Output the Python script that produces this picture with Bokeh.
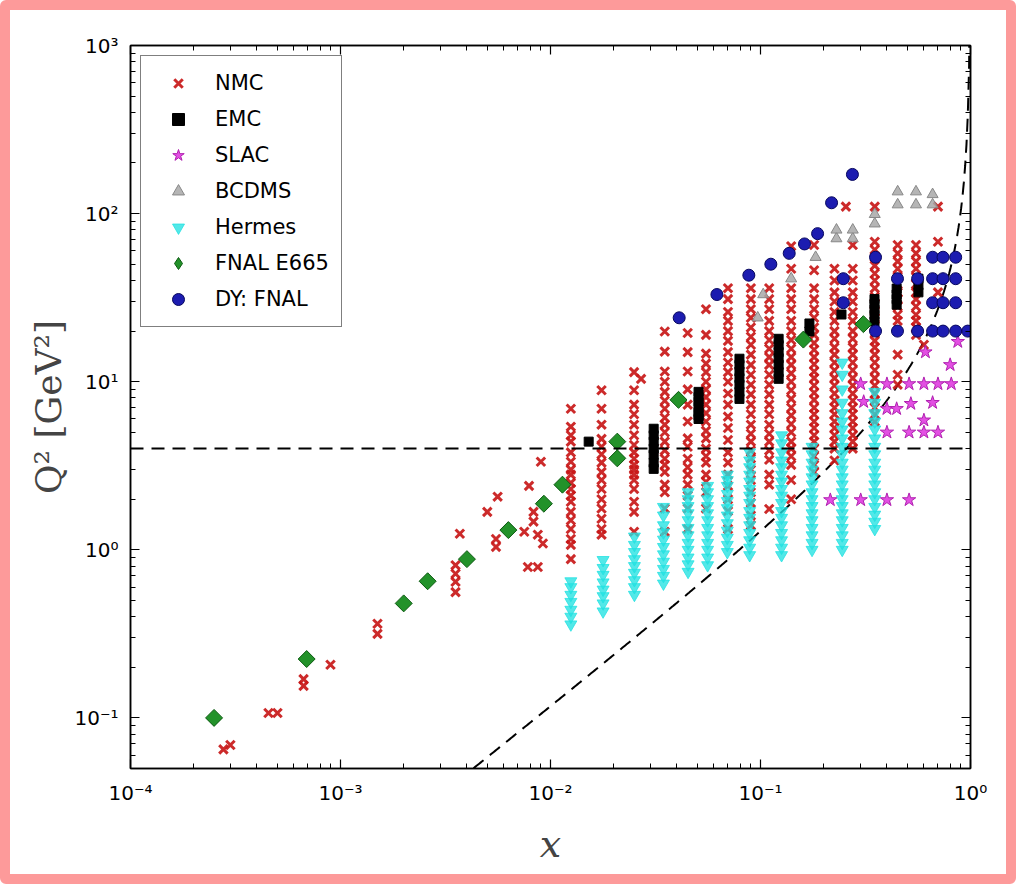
import numpy as np
from bokeh.plotting import figure
from bokeh.models import (LogAxis, LogTicker, CustomJSTickFormatter, Span,
                          Legend, LegendItem)
from bokeh.embed import file_html
from bokeh.resources import INLINE

# ------------------------------------------------------------------ data
# NMC: isolated low-x points
nmc_lowx_x = [0.000277, 0.000299, 0.000454, 0.000501, 0.000667, 0.000667, 0.000896,
              0.0015, 0.0015, 0.00353, 0.00353, 0.00353, 0.00353, 0.0037,
              0.0050, 0.0055, 0.0055, 0.0056, 0.0075, 0.0079, 0.0083, 0.0083,
              0.0087, 0.0090, 0.0092, 0.0078, 0.0087,
              0.027, 0.255, 0.60]
nmc_lowx_q2 = [0.065, 0.069, 0.107, 0.107, 0.155, 0.17, 0.207,
               0.363, 0.316, 0.81, 0.72, 0.645, 0.56, 1.245,
               1.68, 1.16, 1.04, 2.07, 1.28, 2.4, 1.68, 1.47,
               1.23, 3.34, 1.09, 0.79, 0.79,
               10.4, 110, 16.6]
# NMC: x bins and the Q2 values measured in each bin
nmc_bins = [0.0125, 0.0175, 0.025, 0.035, 0.045, 0.055, 0.07, 0.09, 0.11,
            0.14, 0.18, 0.225, 0.275, 0.35, 0.45, 0.55, 0.70]
nmc_bin_q2 = [
    [6.9, 5.4, 4.8, 4.4, 3.8, 3.34, 3.0, 2.8, 2.5, 2.3, 2.1, 1.93, 1.68, 1.5, 1.33, 1.16, 1.07, 0.88],
    [8.9, 6.9, 5.55, 4.57, 4.1, 3.7, 3.3, 2.9, 2.6, 2.3, 2.0, 1.76, 1.53, 1.33, 1.23],
    [11.4, 8.9, 7.3, 6.4, 5.55, 4.8, 4.2, 3.8, 3.48, 3.2, 3.0, 2.8, 2.6, 2.3, 1.93, 1.68, 1.28],
    [19.9, 15.1, 11.5, 10, 8.7, 7.7, 6.9, 6.1, 5.55, 5.0, 4.4, 3.9, 3.48, 3.2, 2.9, 2.44, 2.2, 1.76, 1.28],
    [19.5, 15, 11.5, 9.0, 7.3, 5.8, 4.6, 4.1, 3.48, 3.1, 2.8, 2.44, 2.1, 1.76, 1.33],
    [27, 19, 14.7, 12.8, 11.4, 10, 9.0, 8.1, 7.3, 6.5, 5.8, 5.1, 4.6, 4.0, 3.6, 3.3, 2.8, 2.54, 2.2, 1.76],
    [36, 31, 26, 23, 20, 17.5, 15, 13, 11.4, 10, 8.5, 7.3, 6.2, 5.3, 4.5, 3.8, 3.3, 2.8, 2.4, 2.0, 1.7, 1.33],
    [36, 31, 27, 24, 21, 18.5, 16.6, 14.5, 12.6, 11, 9.6, 8.4, 7.3, 6.4, 5.55, 4.9, 4.4, 3.9, 3.5,
     3.0, 2.6, 2.2, 1.9, 1.6, 1.4],
    [36, 31, 27, 23, 20, 17.7, 15.7, 14, 12.6, 11, 9.6, 8.4, 7.3, 6.4, 5.55, 4.9, 4.4, 3.9, 3.43,
     2.8, 2.44, 1.75],
    [64, 47, 36, 31, 27, 23, 20, 17.7, 15.7, 14, 12.6, 11.2, 10, 8.9, 7.9, 7.0, 6.3, 5.6, 5.0,
     4.4, 4.0, 3.6, 3.2, 2.6, 2.0],
    [65, 46, 36, 31, 27, 24, 21, 19, 17, 15.5, 14, 12.7, 11.5, 10.5, 9.5, 8.6, 7.8, 7.0, 6.4,
     5.8, 5.3, 4.8, 4.4, 4.0, 3.6, 3.2, 2.9],
    [47, 40, 34, 30, 26, 23, 20, 18, 16, 14.5, 13, 11.7, 10.5, 9.5, 8.5, 7.7, 7.0, 6.4, 5.8,
     5.3, 4.8, 4.4, 4.0, 3.4],
    [65, 47, 40, 34, 30, 26, 23, 20, 18, 16, 14.5, 13, 11.7, 10.5, 9.5, 8.5, 7.7, 7.0, 6.4,
     5.8, 5.3, 4.8, 4.4, 4.0],
    [110, 68, 61, 55, 49, 44, 40, 36, 32, 29, 26, 24, 21.5, 19.5, 17.5, 16, 14.5, 13, 11.7,
     10.5, 9.5, 8.5, 7.7, 7.0, 6.4, 5.8],
    [65, 58, 52, 47, 42, 38, 34, 31, 28, 25, 23, 14.5, 11, 9.6],
    [65, 58, 52, 47, 42, 38, 34, 31, 28, 25, 23, 21, 19],
    [110, 68, 41, 34],
]

emc_x = [0.0152,
         0.031, 0.031, 0.031, 0.031, 0.031, 0.031, 0.031,
         0.0507, 0.0507, 0.0507, 0.0507, 0.0507, 0.0507, 0.0507,
         0.0794, 0.0794, 0.0794, 0.0794, 0.0794, 0.0794, 0.0794,
         0.122, 0.122, 0.122, 0.122, 0.122, 0.122, 0.122,
         0.171, 0.171, 0.243,
         0.349, 0.349, 0.349, 0.349, 0.349,
         0.445, 0.445, 0.445, 0.445, 0.565, 0.565, 0.565]
emc_q2 = [4.4,
          5.25, 4.8, 4.4, 4.0, 3.67, 3.3, 3.03,
          8.7, 8.1, 7.6, 7.1, 6.6, 6.3, 6.0,
          13.7, 12.6, 11.5, 10.5, 9.6, 8.7, 7.9,
          18, 16.5, 15, 13.8, 12.6, 11.4, 10.4,
          22.2, 19.9, 25.1,
          31, 29, 27, 25, 22.8,
          35.8, 33, 31, 28.7, 41, 37.5, 34]

slac_x = [0.215, 0.30, 0.40, 0.51, 0.40, 0.51, 0.60, 0.70, 0.60, 0.40, 0.445,
          0.52, 0.66, 0.31, 0.30, 0.40, 0.51, 0.60, 0.70, 0.81, 0.80, 0.61, 0.87]
slac_q2 = [1.98, 1.98, 1.98, 1.98, 5.0, 5.0, 5.0, 5.0, 5.9, 6.9, 6.9,
           7.4, 7.5, 7.6, 9.7, 9.7, 9.7, 9.7, 9.7, 9.7, 12.6, 15, 17.3]

bcdms_x = [0.45, 0.45, 0.55, 0.55, 0.66, 0.66, 0.35, 0.35, 0.23, 0.23,
           0.275, 0.275, 0.183, 0.14, 0.103, 0.097]
bcdms_q2 = [113, 135, 113, 135, 113, 130, 87, 99, 71, 80,
            71, 80, 55, 41, 33, 24]

hermes_bins = [0.0125, 0.0178, 0.0251, 0.0345, 0.0452, 0.056, 0.0695, 0.0888,
               0.126, 0.176, 0.245, 0.35]
hermes_bin_q2 = [
    [0.36, 0.40, 0.44, 0.49, 0.54, 0.60, 0.65],
    [0.43, 0.48, 0.53, 0.58, 0.64, 0.71, 0.78, 0.87],
    [0.54, 0.60, 0.66, 0.73, 0.80, 0.88, 0.97, 1.07, 1.2],
    [0.63, 0.70, 0.77, 0.85, 0.94, 1.04, 1.15, 1.27, 1.4, 1.6, 1.8],
    [0.74, 0.82, 0.9, 1.0, 1.1, 1.22, 1.35, 1.5, 1.65, 1.82, 2.0, 2.2],
    [0.81, 0.9, 1.0, 1.1, 1.22, 1.35, 1.5, 1.65, 1.82, 2.0, 2.2, 2.4],
    [0.97, 1.07, 1.18, 1.3, 1.44, 1.6, 1.77, 1.95, 2.15, 2.4, 2.6, 2.8],
    [0.93, 1.03, 1.14, 1.26, 1.4, 1.55, 1.7, 1.9, 2.1, 2.3, 2.55, 2.8, 3.1, 3.4, 3.8],
    [0.93, 1.03, 1.14, 1.26, 1.4, 1.55, 1.7, 1.9, 2.1, 2.3, 2.55, 2.8, 3.1, 3.4, 3.8, 4.3, 4.8],
    [1.0, 1.1, 1.22, 1.35, 1.5, 1.65, 1.82, 2.0, 2.2, 2.45, 2.7, 3.0, 3.3, 3.7, 4.1],
    [1.0, 1.1, 1.22, 1.35, 1.5, 1.65, 1.82, 2.0, 2.2, 2.45, 2.7, 3.0, 3.3, 3.7, 4.1,
     4.6, 5.2, 5.8, 6.5, 7.5, 9.0, 11, 13],
    [1.33, 1.47, 1.62, 1.8, 2.0, 2.2, 2.45, 2.7, 3.0, 3.3, 3.7, 4.1, 4.6, 5.2, 5.8,
     6.5, 7.5, 8.7],
]

e665_x = [0.00025, 0.00069, 0.0020, 0.0026, 0.0040, 0.0063, 0.0093, 0.0114,
          0.0208, 0.0208, 0.0407, 0.160, 0.309]
e665_q2 = [0.10, 0.224, 0.48, 0.65, 0.88, 1.31, 1.88, 2.44, 4.4, 3.5, 7.8, 17.8, 22]

dy_x = [0.274, 0.218, 0.187, 0.162, 0.137, 0.112, 0.088, 0.062, 0.041,
        0.248, 0.248, 0.353, 0.353, 0.449, 0.449, 0.56, 0.56,
        0.66, 0.66, 0.66, 0.66, 0.74, 0.74, 0.74, 0.74,
        0.85, 0.85, 0.85, 0.85, 0.97]
dy_q2 = [171, 116, 76, 66, 58, 50, 43, 33, 24,
         41, 29.5, 55, 20, 41, 20, 41, 20,
         55, 41, 29.5, 20, 55, 41, 29.5, 20,
         55, 41, 29.5, 20, 20]

Q2_CUT = 4.0          # horizontal cut
W2_CUT = 12.5         # W^2 cut (GeV^2)
M2_PROTON = 0.88      # proton mass squared (GeV^2)

x_range = (1e-4, 1.0)
y_range = (0.05, 1000.0)


def flatten(bins, lists):
    xs, qs = [], []
    for b, vals in zip(bins, lists):
        xs += [b] * len(vals)
        qs += list(vals)
    return xs, qs


nmc_x, nmc_q2 = flatten(nmc_bins, nmc_bin_q2)
nmc_x = nmc_lowx_x + nmc_x
nmc_q2 = nmc_lowx_q2 + nmc_q2
hermes_x, hermes_q2 = flatten(hermes_bins, hermes_bin_q2)

# ------------------------------------------------------------------ figure
p = figure(width=1016, height=884, x_axis_type="log", y_axis_type="log",
           x_range=x_range, y_range=y_range,
           output_backend="svg", toolbar_location=None,
           min_border_left=120, min_border_right=56,
           min_border_top=35, min_border_bottom=126)
p.styles = {"border": "10px solid #fd9a9a", "border-radius": "6px"}
p.background_fill_color = "white"
p.border_fill_color = "white"
p.outline_line_color = "black"
p.outline_line_width = 1.5
p.xgrid.grid_line_color = None
p.ygrid.grid_line_color = None

bottom_ax = p.below[0]
left_ax = p.left[0]

sup_js = """
const s = {"-":"\u207b","0":"\u2070","1":"\u00b9","2":"\u00b2","3":"\u00b3",
           "4":"\u2074","5":"\u2075","6":"\u2076","7":"\u2077","8":"\u2078","9":"\u2079"};
const e = Math.round(Math.log10(tick));
return "10" + String(e).split("").map(c => s[c]).join("");
"""

bottom_ax.ticker = LogTicker(num_minor_ticks=10, mantissas=[1])
left_ax.ticker = LogTicker(num_minor_ticks=10, mantissas=[1])
bottom_ax.formatter = CustomJSTickFormatter(code=sup_js)
left_ax.formatter = CustomJSTickFormatter(code=sup_js)

top_ax = LogAxis(ticker=LogTicker(num_minor_ticks=10, mantissas=[1]),
                 formatter=CustomJSTickFormatter(code="return '';"))
right_ax = LogAxis(ticker=LogTicker(num_minor_ticks=10, mantissas=[1]),
                   formatter=CustomJSTickFormatter(code="return '';"))
p.add_layout(top_ax, "above")
p.add_layout(right_ax, "right")

for ax in [bottom_ax, left_ax, top_ax, right_ax]:
    ax.major_tick_in = 9
    ax.major_tick_out = 0
    ax.minor_tick_in = 5
    ax.minor_tick_out = 0
    ax.axis_line_color = "black"
    ax.axis_line_width = 1.5
    ax.major_tick_line_color = "black"
    ax.minor_tick_line_color = "black"
    ax.major_tick_line_width = 1.2
    ax.minor_tick_line_width = 1
    ax.major_label_text_font = "DejaVu Sans"
    ax.major_label_text_font_size = "20px"
    ax.major_label_text_color = "black"
    ax.major_label_standoff = 12

bottom_ax.axis_label = "x"
bottom_ax.axis_label_text_font = "DejaVu Serif"
bottom_ax.axis_label_text_font_style = "italic"
bottom_ax.axis_label_text_font_size = "38px"
bottom_ax.axis_label_standoff = 14
left_ax.axis_label = "Q\u00b2 [GeV\u00b2]"
left_ax.axis_label_text_font = "DejaVu Serif"
left_ax.axis_label_text_font_style = "normal"
left_ax.axis_label_text_font_size = "36px"
left_ax.axis_label_standoff = 2

# kinematic cuts
p.add_layout(Span(location=Q2_CUT, dimension="width", line_color="black",
                  line_dash="13 8", line_width=2))
cut_x = np.geomspace(0.003, 0.9995, 400)
cut_q2 = (W2_CUT - M2_PROTON) * cut_x / (1.0 - cut_x)
p.line(cut_x, cut_q2, line_color="black", line_dash="13 8", line_width=2)

# data sets
r_nmc = p.scatter(nmc_x, nmc_q2, marker="x", size=12, line_width=3,
                  line_color="#c81818", line_alpha=0.92)
r_emc = p.scatter(emc_x, emc_q2, marker="square", size=9, fill_color="black",
                  line_color="black")
r_slac = p.scatter(slac_x, slac_q2, marker="star", size=14, fill_color="#e03ce0",
                   line_color="#b020b0", fill_alpha=0.9)
r_bcdms = p.scatter(bcdms_x, bcdms_q2, marker="triangle", size=11,
                    fill_color="#a8a8a8", line_color="#888888", fill_alpha=0.85)
r_hermes = p.scatter(hermes_x, hermes_q2, marker="inverted_triangle", size=12,
                     fill_color="#22e2e2", line_color="#22e2e2",
                     fill_alpha=0.78, line_alpha=0.78)
r_e665 = p.scatter(e665_x, e665_q2, marker="square", angle=np.pi / 4, size=12,
                   fill_color="#23922a", line_color="#0b5a10", line_width=1)
r_dy = p.scatter(dy_x, dy_q2, marker="circle", size=12, fill_color="#1c1cb0",
                 line_color="#07075e", line_width=1)
# legend-only key glyph (a single NaN point, never drawn in the plot area)
r_e665_key = p.scatter(x=[np.nan], y=[np.nan], marker="diamond", size=18,
                       fill_color="#23922a", line_color="#0b5a10", line_width=1)

legend = Legend(items=[
    LegendItem(label="NMC", renderers=[r_nmc]),
    LegendItem(label="EMC", renderers=[r_emc]),
    LegendItem(label="SLAC", renderers=[r_slac]),
    LegendItem(label="BCDMS", renderers=[r_bcdms]),
    LegendItem(label="Hermes", renderers=[r_hermes]),
    LegendItem(label="FNAL E665", renderers=[r_e665_key]),
    LegendItem(label="DY: FNAL", renderers=[r_dy]),
], location="top_left")
legend.label_text_font = "DejaVu Sans"
legend.label_text_font_size = "21px"
legend.label_text_color = "black"
legend.label_height = 30
legend.glyph_height = 30
legend.glyph_width = 50
legend.label_standoff = 12
legend.spacing = 6
legend.padding = 12
legend.margin = 10
legend.border_line_color = "black"
legend.border_line_width = 1.5
legend.background_fill_color = "white"
legend.background_fill_alpha = 1.0
p.add_layout(legend)

open("out.html", "w").write(file_html(p, INLINE))
